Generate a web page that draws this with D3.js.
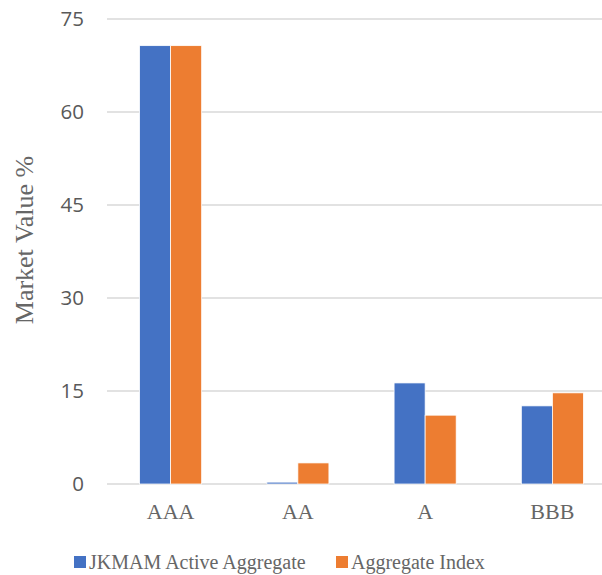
<!DOCTYPE html>
<html>
<head>
<meta charset="utf-8">
<script src="https://cdn.jsdelivr.net/npm/d3@7"></script>
<style>
  body { margin: 0; background: #fff; }
  svg { display: block; }
</style>
</head>
<body>
<svg width="602" height="575"></svg>
<script>
const categories = ["AAA", "AA", "A", "BBB"];
const seriesNames = ["JKMAM Active Aggregate", "Aggregate Index"];
const activeValues = [70.7, 0.3, 16.3, 12.6];
const indexValues = [70.7, 3.4, 11.1, 14.7];
const yTicks = [0, 15, 30, 45, 60, 75];
const colors = ["#4472C4", "#ED7D31"];

const svg = d3.select("svg");
const serif = "'Liberation Serif', 'DejaVu Serif', serif";
const sans = "'Open Sans', 'Liberation Sans', sans-serif";

const plotLeft = 107, plotRight = 616, plotTop = 19, plotBottom = 484;

const x = d3.scaleBand()
  .domain(categories)
  .range([plotLeft, plotRight]);

const x1 = d3.scaleBand()
  .domain(seriesNames)
  .range([0, x.bandwidth()])
  .paddingOuter(1.05)
  .paddingInner(0);

const y = d3.scaleLinear()
  .domain([0, 75])
  .range([plotBottom, plotTop]);

// gridlines
svg.append("g")
  .selectAll("line")
  .data(yTicks)
  .enter().append("line")
  .attr("x1", plotLeft)
  .attr("x2", plotRight)
  .attr("y1", d => y(d))
  .attr("y2", d => y(d))
  .attr("stroke", "#d9d9d9")
  .attr("stroke-width", 1.5);

// y tick labels
svg.append("g")
  .selectAll("text")
  .data(yTicks)
  .enter().append("text")
  .attr("x", 84)
  .attr("y", d => y(d))
  .attr("dy", "0.36em")
  .attr("text-anchor", "end")
  .style("font-family", sans)
  .style("font-size", "20.5px")
  .style("fill", "#595959")
  .text(d => d);

// bars
const rows = categories.map((c, i) => ({cat: c, vals: [activeValues[i], indexValues[i]]}));
const groups = svg.append("g")
  .selectAll("g")
  .data(rows)
  .enter().append("g")
  .attr("transform", d => `translate(${x(d.cat)},0)`);

groups.selectAll("rect")
  .data(d => d.vals.map((v, j) => ({name: seriesNames[j], v: v, j: j})))
  .enter().append("rect")
  .attr("x", d => x1(d.name))
  .attr("width", x1.bandwidth())
  .attr("y", d => y(d.v))
  .attr("height", d => y(0) - y(d.v))
  .attr("fill", d => colors[d.j])
  .attr("stroke", "#fff")
  .attr("stroke-width", 0.75);

// x labels
svg.append("g")
  .selectAll("text")
  .data(categories)
  .enter().append("text")
  .attr("x", d => x(d) + x.bandwidth() / 2)
  .attr("y", 519)
  .attr("text-anchor", "middle")
  .style("font-family", serif)
  .style("font-size", "22px")
  .style("fill", "#666")
  .text(d => d);

// y title
svg.append("text")
  .attr("transform", "translate(33,240) rotate(-90)")
  .attr("text-anchor", "middle")
  .style("font-family", serif)
  .style("font-size", "26px")
  .style("fill", "#666")
  .text("Market Value %");

// legend
const legendX = [74, 336];
const legend = svg.append("g")
  .selectAll("g")
  .data(seriesNames)
  .enter().append("g")
  .attr("transform", (d, i) => `translate(${legendX[i]},556)`);

legend.append("rect")
  .attr("width", 12)
  .attr("height", 12)
  .attr("fill", (d, i) => colors[i]);

legend.append("text")
  .attr("x", 15)
  .attr("y", 13)
  .style("font-family", serif)
  .style("font-size", "20px")
  .style("fill", "#666")
  .text(d => d);
</script>
</body>
</html>
